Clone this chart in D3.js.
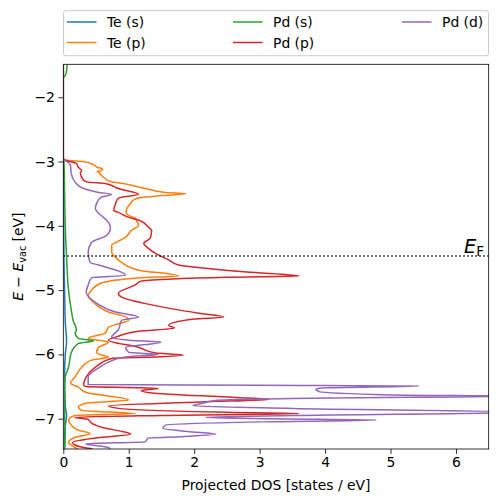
<!DOCTYPE html>
<html><head><meta charset="utf-8">
<script src="https://cdn.jsdelivr.net/npm/d3@7"></script>
<style>body{margin:0;background:#fff}svg{display:block}text{font-family:"DejaVu Sans",sans-serif}</style>
</head><body>
<svg id="c" width="498" height="502"></svg>
<script>
// Data: [energy (eV), projected DOS (states/eV)]
const teS = [[-1.49,0],[-2.95,0],[-3.5,0.005],[-4.5,0.01],[-5.0,0.02],[-5.5,0.03],[-5.8,0.05],[-6.0,0.03],[-6.3,0.02],[-6.8,0.03],[-6.95,0.05],[-7.2,0.02],[-7.47,0.02]];
const teP = [[-1.49,0],[-2.95,0],[-2.98,0.05],[-3.00,0.3],[-3.03,0.42],[-3.06,0.48],[-3.09,0.52],[-3.10,0.57],[-3.12,0.6],[-3.14,0.58],[-3.16,0.52],[-3.17,0.55],[-3.20,0.57],[-3.24,0.61],[-3.31,0.72],[-3.35,0.95],[-3.42,1.26],[-3.48,1.56],[-3.50,1.87],[-3.53,1.5],[-3.56,1.18],[-3.60,1.07],[-3.65,1.03],[-3.73,0.97],[-3.79,0.96],[-3.84,1.0],[-3.88,1.10],[-3.92,1.12],[-3.99,1.15],[-4.07,1.04],[-4.18,0.95],[-4.26,0.80],[-4.30,0.74],[-4.41,0.74],[-4.50,0.81],[-4.57,0.89],[-4.69,1.15],[-4.78,1.76],[-4.81,1.15],[-4.89,0.58],[-5.03,0.41],[-5.08,0.38],[-5.19,0.46],[-5.34,0.69],[-5.42,0.96],[-5.47,1.0],[-5.52,0.85],[-5.58,0.69],[-5.67,0.64],[-5.75,0.38],[-5.81,0.69],[-5.89,0.54],[-5.97,0.51],[-6.01,0.58],[-6.04,0.69],[-6.09,0.43],[-6.20,0.28],[-6.35,0.18],[-6.45,0.11],[-6.51,0.23],[-6.59,0.34],[-6.71,1.0],[-6.76,0.34],[-6.82,0.23],[-6.87,0.28],[-6.92,1.10],[-6.95,0.18],[-7.02,0.08],[-7.10,0.12],[-7.18,0.23],[-7.23,0.41],[-7.29,0.18],[-7.37,0.08],[-7.41,0.12],[-7.46,0.2],[-7.47,0.22]];
const pdS = [[-1.49,0.06],[-1.58,0.05],[-1.66,0.03],[-1.70,0],[-2.95,0],[-3.0,0.01],[-3.5,0.02],[-4.0,0.03],[-4.5,0.05],[-5.0,0.08],[-5.3,0.12],[-5.47,0.15],[-5.62,0.2],[-5.67,0.18],[-5.75,0.23],[-5.79,0.46],[-5.83,0.23],[-5.98,0.12],[-6.2,0.08],[-6.35,0.03],[-6.5,0.02],[-7.0,0.02],[-7.2,0.03],[-7.47,0.02]];
const pdP = [[-1.49,0],[-2.95,0],[-2.98,0.03],[-3.03,0.2],[-3.09,0.23],[-3.14,0.28],[-3.18,0.26],[-3.29,0.31],[-3.32,0.38],[-3.34,0.64],[-3.42,0.84],[-3.51,1.15],[-3.57,0.84],[-3.65,0.80],[-3.76,0.77],[-3.79,0.84],[-3.88,1.03],[-3.91,1.15],[-4.02,1.30],[-4.07,1.35],[-4.19,1.33],[-4.27,1.23],[-4.35,1.30],[-4.43,1.41],[-4.53,1.61],[-4.61,1.76],[-4.66,2.17],[-4.72,2.8],[-4.78,3.60],[-4.80,2.5],[-4.83,1.6],[-4.86,1.19],[-4.92,1.10],[-5.05,0.84],[-5.11,0.89],[-5.23,1.35],[-5.36,2.07],[-5.42,2.45],[-5.45,2.0],[-5.55,1.61],[-5.59,1.70],[-5.64,1.15],[-5.72,0.83],[-5.78,0.69],[-5.89,1.15],[-5.98,1.41],[-6.01,1.83],[-6.04,1.41],[-6.06,0.75],[-6.20,0.49],[-6.35,0.35],[-6.48,0.31],[-6.50,0.35],[-6.52,1.2],[-6.53,1.45],[-6.56,1.19],[-6.60,1.35],[-6.67,2.63],[-6.70,3.14],[-6.74,2.1],[-6.80,0.69],[-6.84,0.84],[-6.90,2.5],[-6.92,3.60],[-6.95,1.5],[-6.98,0.18],[-7.01,0.38],[-7.07,0.43],[-7.15,0.65],[-7.20,0.9],[-7.24,1.03],[-7.30,0.5],[-7.37,0.14],[-7.41,0.18],[-7.46,0.38],[-7.47,0.45]];
const pdD = [[-1.49,0],[-2.95,0],[-2.98,0.03],[-3.06,0.11],[-3.18,0.12],[-3.32,0.18],[-3.42,0.31],[-3.48,0.54],[-3.51,0.74],[-3.56,0.57],[-3.65,0.51],[-3.73,0.49],[-3.84,0.58],[-3.91,0.66],[-4.04,0.72],[-4.15,0.66],[-4.26,0.43],[-4.41,0.38],[-4.57,0.41],[-4.61,0.54],[-4.77,0.95],[-4.81,0.43],[-4.92,0.38],[-5.03,0.35],[-5.19,0.49],[-5.34,0.80],[-5.42,1.15],[-5.47,0.89],[-5.62,0.84],[-5.73,0.74],[-5.78,1.0],[-5.81,1.49],[-5.89,0.95],[-5.97,1.0],[-6.00,1.45],[-6.04,0.95],[-6.12,0.69],[-6.21,0.54],[-6.35,0.38],[-6.47,0.38],[-6.48,3.0],[-6.49,5.44],[-6.52,4.0],[-6.54,3.86],[-6.58,3.91],[-6.63,5.0],[-6.65,7.0],[-6.68,4.0],[-6.72,2.3],[-6.76,2.13],[-6.80,1.98],[-6.84,3.5],[-6.90,7.0],[-6.95,3.5],[-6.98,2.17],[-7.00,3.2],[-7.02,4.78],[-7.05,3.0],[-7.10,1.56],[-7.15,1.52],[-7.20,1.9],[-7.24,2.33],[-7.28,1.8],[-7.30,1.3],[-7.36,1.25],[-7.39,0.34],[-7.45,0.69],[-7.47,0.72]];
const fermiLevel = -4.47;
const seriesNames = ["Te (s)","Te (p)","Pd (s)","Pd (p)","Pd (d)"];
const seriesData = [teS, teP, pdS, pdP, pdD];
const colors = ["#1f77b4","#ff7f0e","#2ca02c","#d62728","#9467bd"];
const xTicks = [0,1,2,3,4,5,6];
const yTicks = [-2,-3,-4,-5,-6,-7];

const svg = d3.select("#c");
const L=63.3, R=488.7, T=64.3, B=449;
const x = d3.scaleLinear().domain([0,6.5]).range([L,R]);
const y = d3.scaleLinear().domain([-1.487,-7.472]).range([T,B]);

svg.append("defs").append("clipPath").attr("id","clip").append("rect")
  .attr("x",L).attr("y",T).attr("width",R-L).attr("height",B-T);

const line = d3.line().x(d=>x(d[1])).y(d=>y(d[0])).curve(d3.curveMonotoneY);
const g = svg.append("g").attr("clip-path","url(#clip)");
seriesData.forEach((s,i)=>{
  g.append("path").datum(s).attr("d",line).attr("fill","none")
   .attr("stroke",colors[i]).attr("stroke-width",1.5).attr("stroke-linejoin","round");
});
g.append("line").attr("x1",L).attr("x2",R).attr("y1",y(fermiLevel)).attr("y2",y(fermiLevel))
  .attr("stroke","#000").attr("stroke-width",1.5).attr("stroke-dasharray","1.5,2.5");

// E_F label
const ef = svg.append("text").attr("x",464).attr("y",y(fermiLevel)-3).attr("font-size",19.4).attr("fill","#000");
ef.append("tspan").attr("font-style","italic").text("E");
ef.append("tspan").attr("font-size",13.5).attr("dy",3).text("F");

// axes
const xAxis = d3.axisBottom(x).tickValues(xTicks).tickSize(4.9).tickPadding(3.5).tickFormat(d3.format("d"));
const yAxis = d3.axisLeft(y).tickValues(yTicks).tickSize(4.9).tickPadding(3.5).tickFormat(d=>"\u2212"+Math.abs(d));
const gx = svg.append("g").attr("transform",`translate(0,${B})`).call(xAxis);
const gy = svg.append("g").attr("transform",`translate(${L},0)`).call(yAxis);
[gx,gy].forEach(a=>{
  a.select(".domain").remove();
  a.selectAll("line").attr("stroke","#000").attr("stroke-width",0.8);
  a.selectAll("text").attr("font-size",13.9).attr("fill","#000").attr("font-family","DejaVu Sans");
});
svg.append("rect").attr("x",L).attr("y",T).attr("width",R-L).attr("height",B-T)
  .attr("fill","none").attr("stroke","#000").attr("stroke-width",0.8);

// axis labels
svg.append("text").attr("x",(L+R)/2).attr("y",489.5).attr("text-anchor","middle")
  .attr("font-size",13.9).text("Projected DOS [states / eV]");
const yl = svg.append("text").attr("transform",`translate(23,${(T+B)/2}) rotate(-90)`)
  .attr("text-anchor","middle").attr("font-size",13.9);
yl.append("tspan").attr("font-style","italic").text("E");
yl.append("tspan").text(" \u2212 ");
yl.append("tspan").attr("font-style","italic").text("E");
yl.append("tspan").attr("font-size",9.7).attr("dy",2.5).text("vac");
yl.append("tspan").attr("dy",-2.5).text(" [eV]");

// legend
svg.append("rect").attr("x",63.5).attr("y",10.7).attr("width",425).attr("height",45)
  .attr("rx",2.5).attr("fill","#fff").attr("fill-opacity",0.8).attr("stroke","#cccccc").attr("stroke-width",1);
const legPos = [[67,22],[67,42.5],[233,22],[233,42.5],[402,22]];
seriesNames.forEach((n,i)=>{
  const [lx,ly]=legPos[i];
  svg.append("line").attr("x1",lx).attr("x2",lx+29.5).attr("y1",ly).attr("y2",ly)
    .attr("stroke",colors[i]).attr("stroke-width",1.5);
  svg.append("text").attr("x",lx+40).attr("y",ly+5).attr("font-size",13.9).text(n);
});
</script>
</body></html>
